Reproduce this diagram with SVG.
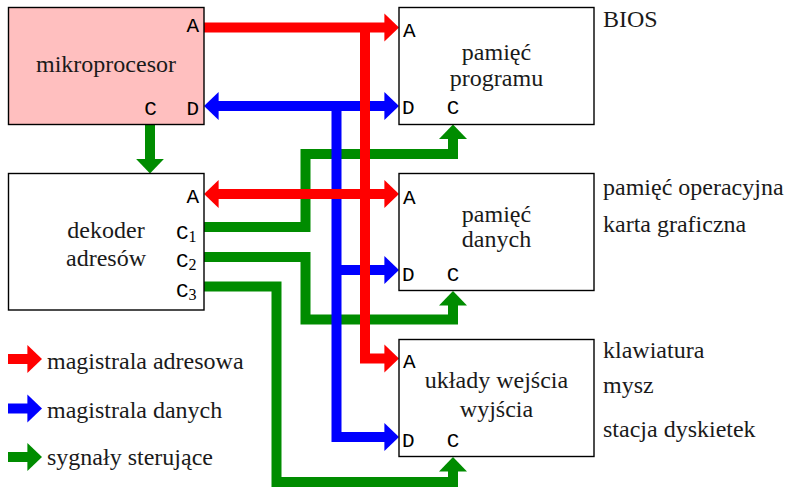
<svg xmlns="http://www.w3.org/2000/svg" width="799" height="490" viewBox="0 0 799 490">
<style>
.box{fill:#ffffff;stroke:#000000;stroke-width:1.4}
.cpu{fill:#ffbfbf}
.s{font-family:"Liberation Serif","DejaVu Serif",serif;font-size:24px;fill:#1a1a1a}
.m{font-family:"Liberation Mono","DejaVu Sans Mono",monospace;font-size:21px;fill:#000000}
.sub{font-family:"Liberation Serif","DejaVu Serif",serif;font-size:16px}
.c{text-anchor:middle}
.e{text-anchor:end}
.bus{fill:none;stroke-width:10;stroke-linejoin:miter;stroke-linecap:butt}
.r{stroke:#ff0000}
.b{stroke:#0000ff}
.g{stroke:#008c00}
</style>
<defs>
<marker id="ar" markerUnits="userSpaceOnUse" viewBox="-1 -15 16 30" markerWidth="16" markerHeight="30" refX="0" refY="0" orient="auto-start-reverse"><path d="M-0.6,-14 L14,0 L-0.6,14 z" fill="#ff0000"/></marker>
<marker id="ab" markerUnits="userSpaceOnUse" viewBox="-1 -15 16 30" markerWidth="16" markerHeight="30" refX="0" refY="0" orient="auto-start-reverse"><path d="M-0.6,-14 L14,0 L-0.6,14 z" fill="#0000ff"/></marker>
<marker id="ag" markerUnits="userSpaceOnUse" viewBox="-1 -15 16 30" markerWidth="16" markerHeight="30" refX="0" refY="0" orient="auto-start-reverse"><path d="M-0.6,-14 L14,0 L-0.6,14 z" fill="#008c00"/></marker>
</defs>

<g id="connectors">
  <path class="bus g" d="M150,124.5 V159.5" marker-end="url(#ag)"/>
  <path class="bus g" d="M204,227 H305.5 V154 H453 V138.5" marker-end="url(#ag)"/>
  <path class="bus g" d="M204,257 H305.5 V319.5 H453 V305" marker-end="url(#ag)"/>
  <path class="bus g" d="M204,286.5 H276.5 V482 H453 V471" marker-end="url(#ag)"/>
  <path class="bus b" d="M218,106 H385" marker-start="url(#ab)" marker-end="url(#ab)"/>
  <path class="bus b" d="M336.5,106 V437 H385" marker-end="url(#ab)"/>
  <path class="bus b" d="M336.5,270 H385" marker-end="url(#ab)"/>
  <path class="bus r" d="M204,27.5 H385" marker-end="url(#ar)"/>
  <path class="bus r" d="M365,27.5 V358.5 H385" marker-end="url(#ar)"/>
  <path class="bus r" d="M218,194 H385" marker-start="url(#ar)" marker-end="url(#ar)"/>
</g>

<g id="mikroprocesor">
  <rect class="box cpu" x="8.5" y="7.5" width="195.5" height="117"/>
  <text class="s c" x="106" y="72">mikroprocesor</text>
  <text class="m e" x="199" y="32">A</text>
  <text class="m c" x="150.5" y="115">C</text>
  <text class="m e" x="199" y="115">D</text>
</g>

<g id="pamiec-programu">
  <rect class="box" x="399" y="7.5" width="195" height="117"/>
  <text class="s c" x="496.5" y="60">pamięć</text>
  <text class="s c" x="496.5" y="86">programu</text>
  <text class="m" x="403" y="37">A</text>
  <text class="m" x="402" y="114">D</text>
  <text class="m c" x="453" y="114">C</text>
</g>

<g id="dekoder-adresow">
  <rect class="box" x="8.5" y="173.5" width="195.5" height="136.5"/>
  <text class="s c" x="106" y="238">dekoder</text>
  <text class="s c" x="106" y="266">adresów</text>
  <text class="m e" x="199" y="203">A</text>
  <text class="m" x="176" y="239">C<tspan class="sub" dy="3">1</tspan></text>
  <text class="m" x="176" y="267">C<tspan class="sub" dy="3">2</tspan></text>
  <text class="m" x="176" y="296.5">C<tspan class="sub" dy="3">3</tspan></text>
</g>

<g id="pamiec-danych">
  <rect class="box" x="399" y="173.5" width="195" height="117"/>
  <text class="s c" x="496.5" y="222">pamięć</text>
  <text class="s c" x="496.5" y="247">danych</text>
  <text class="m" x="403" y="204">A</text>
  <text class="m" x="402" y="281">D</text>
  <text class="m c" x="453" y="281">C</text>
</g>

<g id="uklady-we-wy">
  <rect class="box" x="399" y="339.5" width="195" height="117"/>
  <text class="s c" x="496.5" y="388">układy wejścia</text>
  <text class="s c" x="496.5" y="417">wyjścia</text>
  <text class="m" x="403" y="368">A</text>
  <text class="m" x="402" y="447">D</text>
  <text class="m c" x="453" y="447">C</text>
</g>

<g id="opisy">
  <text class="s" x="603" y="27">BIOS</text>
  <text class="s" x="603" y="195">pamięć operacyjna</text>
  <text class="s" x="603" y="232">karta graficzna</text>
  <text class="s" x="603" y="358">klawiatura</text>
  <text class="s" x="603" y="393">mysz</text>
  <text class="s" x="603" y="437">stacja dyskietek</text>
</g>

<g id="legenda">
  <path class="bus r" d="M8,359 H28" marker-end="url(#ar)"/>
  <path class="bus b" d="M8,408.5 H28" marker-end="url(#ab)"/>
  <path class="bus g" d="M8,457 H28" marker-end="url(#ag)"/>
  <text class="s" x="47" y="369">magistrala adresowa</text>
  <text class="s" x="47" y="417.5">magistrala danych</text>
  <text class="s" x="47" y="465">sygnały sterujące</text>
</g>
</svg>
